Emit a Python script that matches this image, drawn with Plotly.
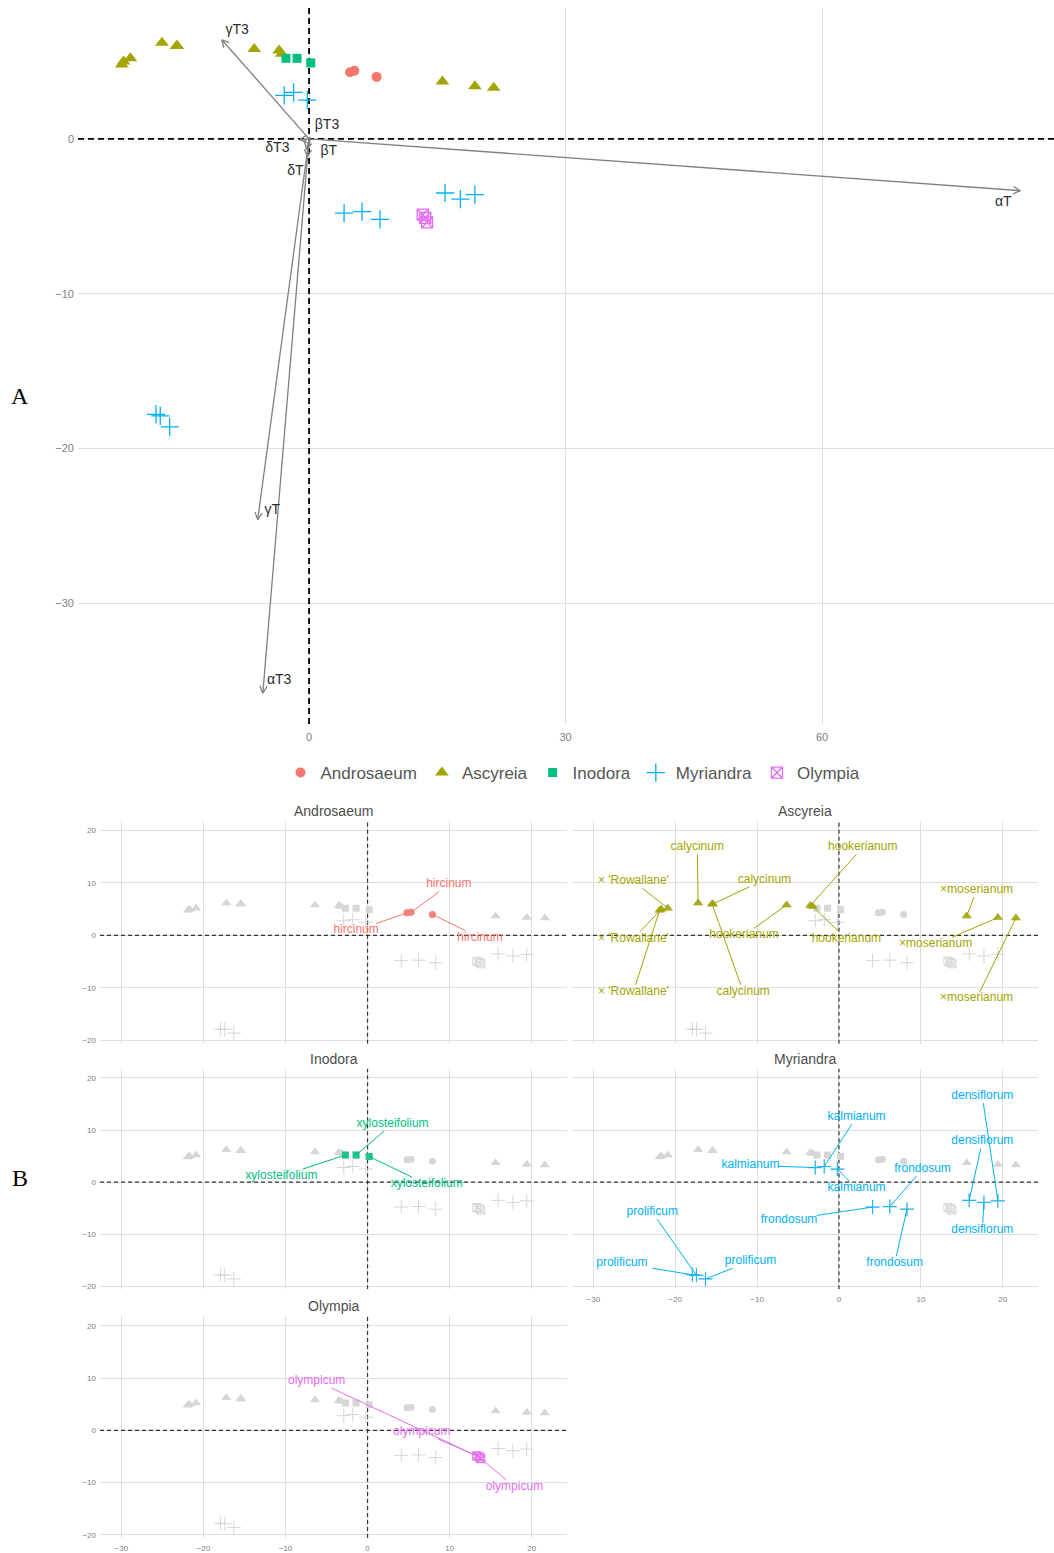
import math
import plotly.graph_objects as go

W, H = 1054, 1553
FONT = "Liberation Sans, Arial, sans-serif"

# ---------------- data: PCA scores, one entry per specimen ----------------
sections = ["Androsaeum", "Ascyreia", "Inodora", "Myriandra", "Olympia"]

section = (["Androsaeum"] * 3 + ["Ascyreia"] * 12 + ["Inodora"] * 3
           + ["Myriandra"] * 12 + ["Olympia"] * 3)
taxon = (["hircinum"] * 3
         + ["× 'Rowallane'"] * 3 + ["calycinum"] * 3 + ["hookerianum"] * 3 + ["×moserianum"] * 3
         + ["xylosteifolium"] * 3
         + ["kalmianum"] * 3 + ["frondosum"] * 3 + ["densiflorum"] * 3 + ["prolificum"] * 3
         + ["olympicum"] * 3)
pc1 = [5.3, 4.8, 7.9,
       -20.9, -21.7, -21.9, -17.2, -15.4, -15.5, -3.5, -6.4, -3.2, 15.6, 19.4, 21.6,
       -1.4, -2.7, 0.2,
       -1.8, -2.9, -0.2, 4.1, 6.2, 8.3, 19.4, 15.9, 17.7, -17.4, -17.9, -16.3,
       13.3, 13.6, 13.8]
pc2 = [4.4, 4.3, 4.0,
       5.2, 5.0, 4.8, 6.2, 6.0, 6.0, 5.7, 5.8, 5.5, 3.7, 3.4, 3.3,
       5.2, 5.2, 4.9,
       3.0, 2.8, 2.5, -4.8, -4.7, -5.2, -3.6, -3.5, -3.9, -17.9, -17.8, -18.6,
       -4.9, -5.1, -5.4]

# variable loadings (arrow tips) for the biplot
loading_names = ["αT", "βT", "γT", "δT", "αT3", "βT3", "γT3", "δT3"]
loading_x = [83.2, -0.2, -6.0, -0.3, -5.4, 0.1, -10.2, -1.1]
loading_y = [-3.35, -1.15, -24.6, -0.7, -35.8, 0.1, 6.4, -0.05]

# ---------------- styling / layout helpers ----------------
colors = {"Androsaeum": "#F8766D", "Ascyreia": "#A3A500", "Inodora": "#00BF7D",
          "Myriandra": "#00B0F6", "Olympia": "#E76BF3"}
symbols = {"Androsaeum": "circle", "Ascyreia": "triangle-up", "Inodora": "square",
           "Myriandra": "cross-thin-open", "Olympia": "square-x-open"}
top_sizes = {"Androsaeum": 10, "Ascyreia": 12, "Inodora": 9, "Myriandra": 13, "Olympia": 11}
facet_sizes = {"Androsaeum": 7, "Ascyreia": 9, "Inodora": 7, "Myriandra": 10, "Olympia": 8}

# repelled label positions (data units) for the per-section panels, same order as the scores
label_pos_x = [9.9, -1.4, 13.7,
               -25.1, -25.1, -25.1, -17.3, -9.1, -11.7, 2.9, -11.6, 0.9, 16.8, 11.8, 16.8,
               3.05, -10.5, 7.2,
               2.15, -10.8, 2.15, -6.1, 10.2, 6.8, 17.5, 17.5, 17.5, -22.8, -26.5, -10.8,
               -6.2, 6.6, 17.9]
label_pos_y = [9.7, 0.95, -0.45,
               10.3, -0.64, -10.7, 16.75, 10.6, -10.7, 16.75, 0.0, -0.64, 8.6, -1.7, -12.0,
               11.2, 1.15, -0.4,
               12.5, 3.2, -1.2, -7.2, 2.5, -15.6, 16.5, 7.8, -9.2, -5.8, -15.6, -15.2,
               9.4, -0.3, -10.8]
# biplot variable label positions
loading_label_x = [81.2, 2.3, -4.3, -1.6, -3.5, 2.1, -8.4, -3.7]
loading_label_y = [-4.1, -0.84, -24.0, -2.1, -35.0, 0.84, 7.0, -0.65]

# pixel boxes of the plotting areas
TOP_BOX = (78, 1054, 8, 725)
top_xr = [-27.02, 87.13]
top_yr = [-37.8, 8.45]
LEFT, RIGHT = (100, 567), (572, 1038)
ROWS = [(822, 1045), (1070, 1291), (1318, 1540)]
facet_xr = [-32.6, 24.3]
facet_yr = [-20.6, 21.8]
facet_boxes = {
    "Androsaeum": (LEFT, ROWS[0]),
    "Ascyreia": (RIGHT, ROWS[0]),
    "Inodora": (LEFT, ROWS[1]),
    "Myriandra": (RIGHT, ROWS[1]),
    "Olympia": (LEFT, ROWS[2]),
}


def xdom(x0, x1):
    return [x0 / W, x1 / W]


def ydom(y0, y1):
    return [1 - y1 / H, 1 - y0 / H]


def chevron(tx, ty, sx, sy, head=8.0, ang=math.radians(27)):
    dx, dy = tx * sx, ty * sy
    L = math.hypot(dx, dy)
    ux, uy = dx / L, dy / L
    pts = []
    for s in (1, -1):
        c, si = math.cos(s * ang), math.sin(s * ang)
        rx, ry = ux * c - uy * si, ux * si + uy * c
        pts.append((tx - head * rx / sx, ty - head * ry / sy))
    return pts


def label_edge(px_, py_, lx, ly, text, sx, sy, fs=12):
    hw = 5.9 * len(text) / 2 + 1
    hh = fs / 2 + 1
    dx, dy = (px_ - lx) * sx, (py_ - ly) * sy
    if abs(dx) <= hw and abs(dy) <= hh:
        return None
    t = min(hw / abs(dx) if dx else 1e9, hh / abs(dy) if dy else 1e9)
    return lx + t * dx / sx, ly + t * dy / sy


fig = go.Figure()

# ---------------- panel A: biplot ----------------
sx_top = (TOP_BOX[1] - TOP_BOX[0]) / (top_xr[1] - top_xr[0])
sy_top = (TOP_BOX[3] - TOP_BOX[2]) / (top_yr[1] - top_yr[0])

# reference lines through the origin
fig.add_trace(go.Scatter(x=[top_xr[0], top_xr[1], None, 0, 0], y=[0, 0, None, top_yr[0], top_yr[1]],
                         mode="lines", line=dict(color="black", width=1.8, dash="6px,4px"),
                         hoverinfo="skip", showlegend=False, xaxis="x", yaxis="y"))

for g in sections:
    idx = [i for i, s in enumerate(section) if s == g]
    open_sym = symbols[g].endswith("open")
    fig.add_trace(go.Scatter(
        x=[pc1[i] for i in idx], y=[pc2[i] for i in idx], mode="markers", name=g,
        marker=dict(symbol=symbols[g], size=top_sizes[g], color=colors[g],
                    line=dict(color=colors[g], width=1.3 if open_sym else 0)),
        xaxis="x", yaxis="y", showlegend=True))

ax_x, ax_y = [], []
for tx, ty in zip(loading_x, loading_y):
    (h1x, h1y), (h2x, h2y) = chevron(tx, ty, sx_top, sy_top)
    ax_x += [0, tx, None, h1x, tx, h2x, None]
    ax_y += [0, ty, None, h1y, ty, h2y, None]
fig.add_trace(go.Scatter(x=ax_x, y=ax_y, mode="lines", line=dict(color="#808080", width=1.3),
                         hoverinfo="skip", showlegend=False, xaxis="x", yaxis="y"))
fig.add_trace(go.Scatter(x=loading_label_x, y=loading_label_y, mode="text", text=loading_names,
                         textfont=dict(family=FONT, size=14, color="#2b2b2b"),
                         hoverinfo="skip", showlegend=False, xaxis="x", yaxis="y"))

# ---------------- panel B: one facet per section ----------------
axis_common = dict(showgrid=True, gridcolor="#dedede", gridwidth=1, zeroline=False,
                   showline=False, ticks="", fixedrange=True)
layout_axes = {}
layout_axes["xaxis"] = dict(axis_common, domain=xdom(*TOP_BOX[:2]), range=top_xr, anchor="y",
                            tickvals=[0, 30, 60], ticklabelstandoff=5,
                            tickfont=dict(family=FONT, size=11, color="#808080"))
layout_axes["yaxis"] = dict(axis_common, domain=ydom(*TOP_BOX[2:]), range=top_yr, anchor="x",
                            tickvals=[-30, -20, -10, 0], ticklabelstandoff=3,
                            tickfont=dict(family=FONT, size=11, color="#808080"))

annotations = []
for k, g in enumerate(sections, start=2):
    (cx0, cx1), (ry0, ry1) = facet_boxes[g]
    xa, ya = f"x{k}", f"y{k}"
    sx = (cx1 - cx0) / (facet_xr[1] - facet_xr[0])
    sy = (ry1 - ry0) / (facet_yr[1] - facet_yr[0])
    show_x = g in ("Myriandra", "Olympia")
    show_y = cx0 == LEFT[0]
    layout_axes[f"xaxis{k}"] = dict(axis_common, domain=xdom(cx0, cx1), range=facet_xr, anchor=ya,
                                    tickvals=[-30, -20, -10, 0, 10, 20], showticklabels=show_x,
                                    ticklabelstandoff=4,
                                    tickfont=dict(family=FONT, size=8, color="#808080"))
    layout_axes[f"yaxis{k}"] = dict(axis_common, domain=ydom(ry0, ry1), range=facet_yr, anchor=xa,
                                    tickvals=[-20, -10, 0, 10, 20], showticklabels=show_y,
                                    ticklabelstandoff=3,
                                    tickfont=dict(family=FONT, size=8, color="#808080"))
    fig.add_trace(go.Scatter(x=[facet_xr[0], facet_xr[1], None, 0, 0],
                             y=[0, 0, None, facet_yr[0], facet_yr[1]], mode="lines",
                             line=dict(color="#333333", width=1.2, dash="4px,3px"),
                             hoverinfo="skip", showlegend=False, xaxis=xa, yaxis=ya))
    # every specimen in grey as context
    for gg in sections:
        idx = [i for i, s in enumerate(section) if s == gg]
        open_sym = symbols[gg].endswith("open")
        fig.add_trace(go.Scatter(
            x=[pc1[i] for i in idx], y=[pc2[i] for i in idx], mode="markers",
            marker=dict(symbol=symbols[gg], size=facet_sizes[gg], color="#d6d6d6",
                        line=dict(color="#d6d6d6", width=1 if open_sym else 0)),
            hoverinfo="skip", showlegend=False, xaxis=xa, yaxis=ya))
    idx = [i for i, s in enumerate(section) if s == g]
    open_sym = symbols[g].endswith("open")
    fig.add_trace(go.Scatter(
        x=[pc1[i] for i in idx], y=[pc2[i] for i in idx], mode="markers",
        marker=dict(symbol=symbols[g], size=facet_sizes[g], color=colors[g], opacity=0.85,
                    line=dict(color=colors[g], width=1.2 if open_sym else 0)),
        showlegend=False, xaxis=xa, yaxis=ya))
    seg_x, seg_y = [], []
    for i in idx:
        end = label_edge(pc1[i], pc2[i], label_pos_x[i], label_pos_y[i], taxon[i], sx, sy)
        if end is not None:
            seg_x += [pc1[i], end[0], None]
            seg_y += [pc2[i], end[1], None]
    fig.add_trace(go.Scatter(x=seg_x, y=seg_y, mode="lines", line=dict(color=colors[g], width=1),
                             hoverinfo="skip", showlegend=False, xaxis=xa, yaxis=ya))
    fig.add_trace(go.Scatter(x=[label_pos_x[i] for i in idx], y=[label_pos_y[i] for i in idx],
                             mode="text", text=[taxon[i] for i in idx],
                             textfont=dict(family=FONT, size=12, color=colors[g]),
                             hoverinfo="skip", showlegend=False, xaxis=xa, yaxis=ya))
    annotations.append(dict(text=g, x=(cx0 + cx1) / 2 / W, y=1 - (ry0 - 10) / H, xref="paper",
                            yref="paper", showarrow=False, xanchor="center", yanchor="middle",
                            font=dict(family=FONT, size=14, color="#4d4d4d")))

for letter, py in (("A", 397), ("B", 1180)):
    annotations.append(dict(text=letter, x=20 / W, y=1 - py / H, xref="paper", yref="paper",
                            showarrow=False, xanchor="center", yanchor="middle",
                            font=dict(family="Liberation Serif, DejaVu Serif, serif", size=24,
                                      color="black")))

fig.update_layout(
    width=W, height=H, margin=dict(l=0, r=0, t=0, b=0),
    paper_bgcolor="white", plot_bgcolor="white",
    font=dict(family=FONT),
    showlegend=True,
    legend=dict(orientation="h", x=573 / W, xanchor="center", y=1 - 774 / H, yanchor="middle",
                font=dict(family=FONT, size=17, color="#555555"), itemwidth=30,
                bgcolor="rgba(0,0,0,0)"),
    annotations=annotations,
    **layout_axes,
)

fig.write_html("out.html")
